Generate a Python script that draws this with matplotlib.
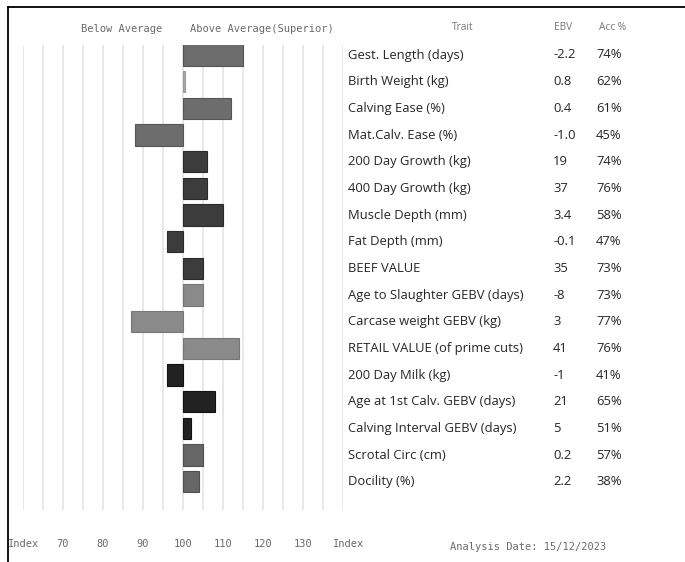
import matplotlib
matplotlib.use("Agg")
import matplotlib.pyplot as plt
from matplotlib.lines import Line2D

traits = ["Gest. Length (days)", "Birth Weight (kg)", "Calving Ease (%)", "Mat.Calv. Ease (%)",
          "200 Day Growth (kg)", "400 Day Growth (kg)", "Muscle Depth (mm)", "Fat Depth (mm)",
          "BEEF VALUE", "Age to Slaughter GEBV (days)", "Carcase weight GEBV (kg)",
          "RETAIL VALUE (of prime cuts)", "200 Day Milk (kg)", "Age at 1st Calv. GEBV (days)",
          "Calving Interval GEBV (days)", "Scrotal Circ (cm)", "Docility (%)"]
ebv = ["-2.2", "0.8", "0.4", "-1.0", "19", "37", "3.4", "-0.1", "35", "-8", "3", "41",
       "-1", "21", "5", "0.2", "2.2"]
acc = ["74%", "62%", "61%", "45%", "74%", "76%", "58%", "47%", "73%", "73%", "77%", "76%",
       "41%", "65%", "51%", "57%", "38%"]
index_vals = [115, 100.6, 112, 88, 106, 106, 110, 96, 105, 105, 87, 114, 96, 108, 102, 105, 104]
tick_vals = [70, 80, 90, 100, 110, 120, 130]
grid_vals = list(range(60, 141, 5))

bar_colors = ["#6d6d6d", "#ababab", "#6d6d6d", "#6d6d6d", "#3c3c3c", "#3c3c3c", "#3c3c3c",
              "#3c3c3c", "#3c3c3c", "#8a8a8a", "#8a8a8a", "#8a8a8a", "#222222", "#222222",
              "#222222", "#666666", "#666666"]
edge_colors = ["#555555", "#999999", "#555555", "#555555", "#2a2a2a", "#2a2a2a", "#2a2a2a",
               "#2a2a2a", "#2a2a2a", "#777777", "#777777", "#777777", "#111111", "#111111",
               "#111111", "#505050", "#505050"]

W, H = 685, 562
fig = plt.figure(figsize=(W / 100, H / 100), dpi=100)

def fx(px):
    return px / W

def fy(py):
    return 1 - py / H

top_px, bot_px = 45, 510
row0, step = 55.0, 26.67
ylo = (top_px - row0) / step
yhi = (bot_px - row0) / step
ax = fig.add_axes([fx(22.7), fy(bot_px), fx(343 - 22.7), (bot_px - top_px) / H])
ax.set_xlim(60, 140)
ax.set_ylim(yhi, ylo)
ax.axis("off")
for g in grid_vals:
    ax.axvline(g, color="#e8e8e8", lw=1.4, zorder=0)
rows = list(range(len(traits)))
ax.barh(rows, [v - 100 for v in index_vals], left=100, height=0.8,
        color=bar_colors, edgecolor=edge_colors, linewidth=0.8, zorder=2)

mono = dict(family="DejaVu Sans Mono", fontsize=7.5, color="#6a6a6a")
ax.text(84.8, (29 - row0) / step, "Below Average", ha="center", va="center", **mono)
ax.text(119.8, (29 - row0) / step, "Above Average(Superior)", ha="center", va="center", **mono)
ty = (544 - row0) / step
for t in tick_vals:
    ax.text(t, ty, str(t), ha="center", va="center", clip_on=False, **mono)
ax.text(56.3, ty, "Index", ha="left", va="center", clip_on=False, **mono)
ax.text(137.5, ty, "Index", ha="left", va="center", clip_on=False, **mono)

tax = fig.add_axes([fx(343), fy(bot_px), fx(W - 343), (bot_px - top_px) / H])
tax.set_xlim(343, W)
tax.set_ylim(yhi, ylo)
tax.axis("off")
txt = dict(family="Open Sans", fontsize=9.4, color="#262626", va="center")
for i in rows:
    tax.text(348, i, traits[i], ha="left", **txt)
    tax.text(553, i, ebv[i], ha="left", **txt)
    tax.text(596, i, acc[i], ha="left", **txt)
hdr = dict(family="Open Sans", fontsize=7.3, color="#777777", va="center", clip_on=False)
hy = (27 - row0) / step
tax.text(463, hy, "Trait", ha="center", **hdr)
tax.text(563, hy, "EBV", ha="center", **hdr)
tax.text(613, hy, "Acc %", ha="center", **hdr)
tax.text(450, (546.5 - row0) / step, "Analysis Date: 15/12/2023", ha="left", va="center",
         clip_on=False, **mono)

fig.add_artist(Line2D([fx(8), 1], [fy(7), fy(7)], color="black", lw=1.3))
fig.add_artist(Line2D([fx(8), fx(8)], [fy(7), 0], color="black", lw=1.3))

fig.savefig("out.png", dpi=100)
